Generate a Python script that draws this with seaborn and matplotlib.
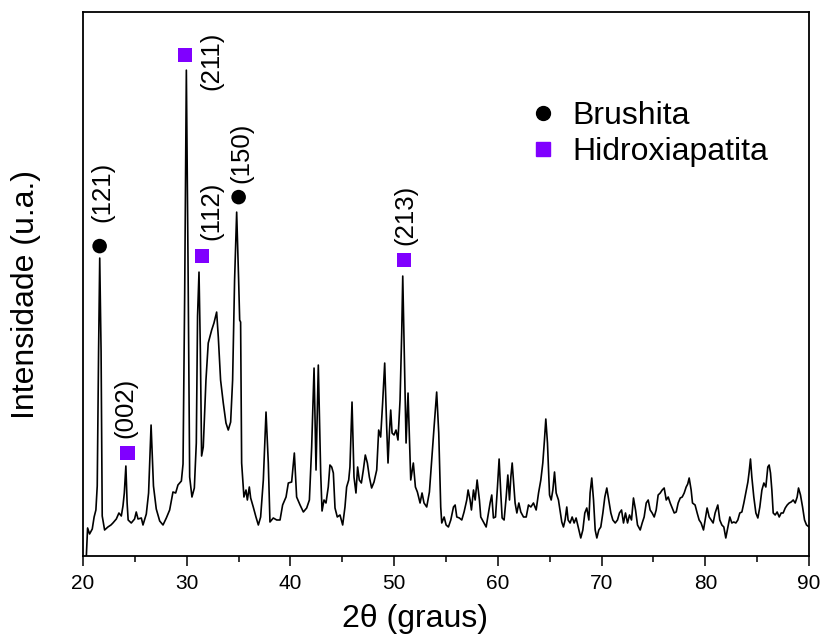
import matplotlib
matplotlib.use("Agg")
import matplotlib.pyplot as plt
import seaborn as sns
from matplotlib.lines import Line2D
from matplotlib.ticker import MultipleLocator

# XRD pattern (2theta in degrees, intensity in arbitrary units)
two_theta = [
    20.33, 20.45, 20.64, 20.90, 21.08, 21.25, 21.38, 21.51, 21.62, 21.75,
    21.86, 22.09, 22.41, 22.70, 22.89, 23.22, 23.47, 23.70, 23.86, 23.99,
    24.14, 24.26, 24.36, 24.66, 24.98, 25.14, 25.31, 25.63, 25.79, 26.11,
    26.33, 26.57, 26.80, 27.07, 27.40, 27.72, 28.04, 28.36, 28.68, 28.94,
    29.16, 29.49, 29.65, 29.81, 29.97, 30.13, 30.29, 30.51, 30.74, 30.93,
    31.05, 31.19, 31.32, 31.44, 31.60, 31.86, 32.08, 32.41, 32.63, 32.89,
    33.05, 33.27, 33.53, 33.79, 34.01, 34.24, 34.43, 34.62, 34.82, 35.01,
    35.11, 35.20, 35.30, 35.52, 35.72, 35.85, 36.04, 36.17, 36.42, 36.68,
    36.91, 37.13, 37.39, 37.65, 37.87, 38.03, 38.35, 38.68, 39.00, 39.25,
    39.58, 39.80, 40.12, 40.38, 40.60, 40.93, 41.25, 41.57, 41.83, 42.05,
    42.28, 42.47, 42.69, 42.92, 43.05, 43.24, 43.43, 43.65, 43.81, 43.98,
    44.14, 44.30, 44.52, 44.78, 45.04, 45.26, 45.42, 45.62, 45.74, 45.94,
    46.13, 46.32, 46.48, 46.64, 46.84, 47.03, 47.22, 47.42, 47.61, 47.83,
    48.06, 48.32, 48.51, 48.70, 48.89, 49.09, 49.28, 49.41, 49.54, 49.67,
    49.80, 49.99, 50.18, 50.37, 50.57, 50.73, 50.83, 50.98, 51.15, 51.34,
    51.60, 51.85, 52.05, 52.24, 52.50, 52.69, 52.88, 53.14, 53.40, 53.62,
    53.85, 54.10, 54.30, 54.49, 54.59, 54.82, 55.01, 55.23, 55.46, 55.72,
    55.88, 56.04, 56.29, 56.52, 56.74, 57.00, 57.13, 57.32, 57.45, 57.65,
    57.81, 58.00, 58.22, 58.35, 58.61, 58.87, 59.09, 59.25, 59.41, 59.57,
    59.77, 59.96, 60.12, 60.28, 60.41, 60.60, 60.80, 60.96, 61.12, 61.25,
    61.38, 61.50, 61.66, 61.83, 62.02, 62.21, 62.47, 62.73, 62.95, 63.18,
    63.43, 63.69, 63.92, 64.14, 64.33, 64.49, 64.62, 64.78, 64.98, 65.14,
    65.30, 65.46, 65.62, 65.84, 66.16, 66.32, 66.48, 66.64, 66.77, 66.96,
    67.16, 67.35, 67.54, 67.77, 67.99, 68.19, 68.38, 68.57, 68.77, 68.89,
    69.05, 69.22, 69.38, 69.54, 69.73, 69.92, 70.12, 70.31, 70.50, 70.69,
    70.89, 71.08, 71.31, 71.53, 71.72, 71.92, 72.11, 72.30, 72.50, 72.69,
    72.88, 73.07, 73.27, 73.46, 73.72, 73.91, 74.10, 74.30, 74.49, 74.68,
    74.87, 75.07, 75.26, 75.45, 75.65, 75.84, 76.03, 76.23, 76.42, 76.61,
    76.80, 77.00, 77.19, 77.38, 77.58, 77.77, 77.96, 78.15, 78.30, 78.44,
    78.63, 78.76, 79.01, 79.21, 79.40, 79.59, 79.82, 79.98, 80.17, 80.37,
    80.56, 80.75, 80.94, 81.20, 81.39, 81.59, 81.78, 81.97, 82.17, 82.36,
    82.55, 82.74, 82.94, 83.13, 83.32, 83.52, 83.71, 83.90, 84.10, 84.22,
    84.35, 84.48, 84.67, 84.87, 85.06, 85.25, 85.45, 85.64, 85.83, 86.02,
    86.15, 86.28, 86.41, 86.54, 86.73, 86.92, 87.12, 87.31, 87.50, 87.70,
    87.89, 88.08, 88.27, 88.47, 88.66, 88.85, 88.98, 89.17, 89.37, 89.56,
    89.75, 90.00,
]
intensity = [
    0, 28, 22, 27, 39, 46, 70, 205, 298, 205,
    40, 26, 29, 31, 33, 37, 43, 40, 50, 63,
    90, 53, 36, 33, 37, 44, 37, 38, 31, 42,
    63, 131, 70, 47, 35, 31, 38, 46, 64, 63,
    71, 75, 92, 263, 486, 296, 79, 59, 68, 113,
    240, 284, 206, 100, 109, 176, 213, 226, 233, 244,
    219, 176, 153, 133, 126, 134, 176, 276, 344, 276,
    236, 234, 93, 59, 66, 56, 69, 58, 49, 39,
    31, 39, 76, 144, 93, 34, 38, 36, 36, 51,
    59, 73, 74, 103, 59, 51, 44, 48, 56, 109,
    188, 86, 191, 83, 45, 56, 53, 69, 91, 89,
    83, 48, 39, 41, 31, 49, 69, 76, 89, 154,
    79, 63, 89, 76, 73, 86, 101, 93, 79, 68,
    74, 86, 126, 119, 153, 193, 129, 93, 123, 146,
    123, 121, 126, 116, 156, 223, 280, 200, 113, 163,
    76, 93, 69, 64, 53, 63, 53, 49, 64, 96,
    129, 164, 123, 49, 33, 39, 31, 29, 36, 49,
    51, 39, 38, 36, 44, 56, 66, 56, 46, 66,
    56, 76, 56, 39, 34, 29, 43, 53, 61, 38,
    39, 69, 97, 63, 38, 36, 59, 81, 56, 79,
    93, 76, 53, 43, 53, 44, 39, 39, 51, 49,
    53, 46, 63, 76, 93, 116, 137, 113, 61, 56,
    66, 84, 63, 56, 34, 29, 36, 49, 36, 33,
    39, 33, 38, 28, 18, 26, 43, 48, 36, 63,
    78, 56, 26, 18, 26, 29, 43, 59, 68, 56,
    43, 36, 33, 36, 43, 46, 33, 43, 33, 41,
    36, 58, 46, 31, 26, 33, 39, 53, 56, 46,
    43, 39, 46, 61, 63, 66, 68, 56, 59, 53,
    48, 43, 44, 53, 58, 59, 63, 69, 72, 78,
    66, 53, 51, 43, 36, 33, 26, 36, 48, 39,
    36, 33, 43, 51, 36, 31, 29, 18, 29, 39,
    33, 34, 33, 36, 43, 44, 53, 63, 74, 84,
    97, 79, 59, 43, 38, 49, 66, 73, 69, 89,
    91, 83, 66, 43, 41, 44, 39, 43, 43, 48,
    51, 53, 54, 56, 53, 59, 68, 61, 49, 36,
    31, 29,
]

# indexed peaks
peak_hkl = ["(121)", "(002)", "(211)", "(112)", "(150)", "(213)"]
peak_phase = ["Brushita", "Hidroxiapatita", "Hidroxiapatita",
              "Hidroxiapatita", "Brushita", "Hidroxiapatita"]
peak_x = [21.61, 24.31, 29.84, 31.48, 35.01, 50.93]
peak_y = [310, 103, 501, 300, 359, 296]
# where the (hkl) text sits (centre x, bottom y)
label_x = [21.85, 24.12, 32.42, 32.36, 35.32, 51.12]
label_y = [334, 118, 466, 316, 373, 311]

phases = ["Brushita", "Hidroxiapatita"]
phase_colors = {"Brushita": "black", "Hidroxiapatita": "#8000ff"}
phase_markers = {"Brushita": "o", "Hidroxiapatita": "s"}

sns.set_style("white")
plt.rcParams["font.family"] = ["Liberation Sans", "DejaVu Sans"]
plt.rcParams["text.color"] = "black"
plt.rcParams["axes.labelcolor"] = "black"
plt.rcParams["xtick.color"] = "black"

fig = plt.figure(figsize=(8.21, 6.42), dpi=100)
ax = fig.add_axes([0.101, 0.134, 0.8845, 0.847])

sns.lineplot(x=two_theta, y=intensity, color="black", linewidth=1.2, ax=ax)

sns.scatterplot(x=peak_x, y=peak_y, hue=peak_phase, style=peak_phase,
                palette=phase_colors, markers=phase_markers, s=110,
                linewidth=0, legend=False, ax=ax, zorder=3)

for txt, lx, ly in zip(peak_hkl, label_x, label_y):
    ax.text(lx, ly, txt, rotation=90, ha="center", va="bottom", fontsize=18.5)

handles = [Line2D([], [], linestyle="", marker=phase_markers[p],
                  color=phase_colors[p], markersize=10) for p in phases]
ax.legend(handles, phases, loc="upper left", bbox_to_anchor=(0.568, 0.89),
          frameon=False, fontsize=23, handletextpad=0.3, labelspacing=0.2,
          handlelength=1.2)

ax.set_xlim(20, 90)
ax.set_ylim(0, 544)
ax.set_yticks([])
ax.xaxis.set_major_locator(MultipleLocator(10))
ax.xaxis.set_minor_locator(MultipleLocator(5))
ax.tick_params(axis="x", which="major", direction="out", length=7, width=1.1,
               labelsize=15, pad=6, bottom=True)
ax.tick_params(axis="x", which="minor", direction="out", length=4, width=1.1,
               bottom=True)
for sp in ax.spines.values():
    sp.set_color("black")
    sp.set_linewidth(1.3)

ax.set_xlabel("2θ (graus)", fontsize=23)
ax.set_ylabel("Intensidade (u.a.)", fontsize=23)
ax.xaxis.set_label_coords(0.457, -0.088)
ax.yaxis.set_label_coords(-0.058, 0.48)

fig.savefig("out.png", dpi=100)
